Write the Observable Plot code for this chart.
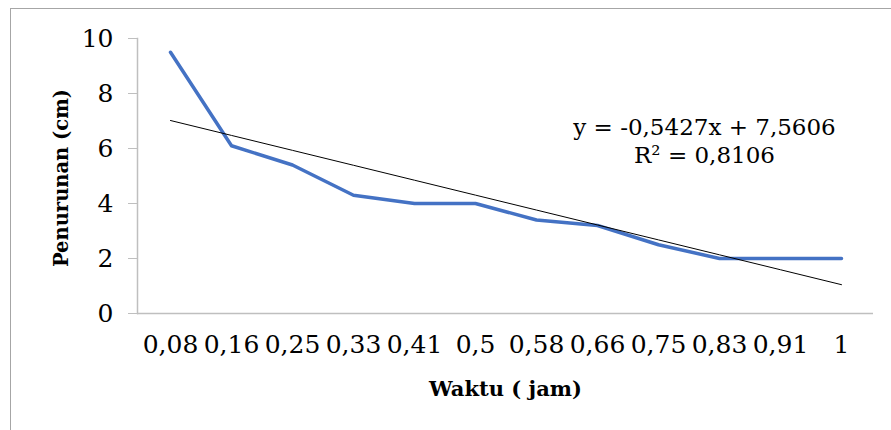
<!DOCTYPE html>
<html>
<head>
<meta charset="utf-8">
<script src="https://cdn.jsdelivr.net/npm/d3@7"></script>
<script src="https://cdn.jsdelivr.net/npm/@observablehq/plot@0.6"></script>
<style>
  html, body { margin: 0; padding: 0; background: #fff; }
  #wrap { position: relative; width: 891px; height: 430px; overflow: hidden; }
  #border { position: absolute; left: 10px; top: 8px; right: -5px; bottom: -5px;
            border-top: 1px solid #a6a6a6; border-left: 1px solid #a6a6a6; pointer-events: none; }
</style>
</head>
<body>
<div id="wrap"><div id="border"></div></div>
<script>
// Data
const categories = ["0,08","0,16","0,25","0,33","0,41","0,5","0,58","0,66","0,75","0,83","0,91","1"];
const values = [9.5, 6.1, 5.4, 4.3, 4.0, 4.0, 3.4, 3.2, 2.5, 2.0, 2.0, 2.0];
const yTicks = [0, 2, 4, 6, 8, 10];
const trendSlope = -0.5427;
const trendIntercept = 7.5606;
const equationText = "y = -0,5427x + 7,5606";
const r2Text = "R² = 0,8106";
const xLabel = "Waktu ( jam)";
const yLabel = "Penurunan (cm)";

const data = categories.map((c, i) => ({x: c, y: values[i]}));
const trend = categories.map((c, i) => ({x: c, y: trendIntercept + trendSlope * (i + 1)}));

const font = "'DejaVu Serif', serif";
const axisGray = "#bfbfbf";

const chart = Plot.plot({
  width: 891,
  height: 430,
  marginLeft: 137,
  marginRight: 18,
  marginTop: 38,
  marginBottom: 117,
  style: {fontFamily: font, fontSize: "25px", color: "black", background: "transparent"},
  x: {type: "point", domain: categories, padding: 0.5, label: null},
  y: {domain: [0, 10], label: null},
  marks: [
    Plot.axisY({ticks: yTicks, tickSize: 9, tickPadding: 15, stroke: axisGray, fill: "black", fontSize: 25, label: null}),
    Plot.axisX({tickSize: 0, tickPadding: 22, fill: "black", fontSize: 25, label: null}),
    Plot.frame({anchor: "left", stroke: axisGray, strokeWidth: 1.5}),
    Plot.ruleY([0], {stroke: axisGray, strokeWidth: 1.5}),
    Plot.line(data, {x: "x", y: "y", stroke: "#4472C4", strokeWidth: 3.5, strokeLinejoin: "round", strokeLinecap: "round"}),
    Plot.line(trend, {x: "x", y: "y", stroke: "black", strokeWidth: 1}),
    Plot.text([equationText], {frameAnchor: "top-right", dx: -169, dy: 89, textAnchor: "middle", lineAnchor: "middle", fontSize: 23, fill: "black"}),
    Plot.text([r2Text], {frameAnchor: "top-right", dx: -169, dy: 117, textAnchor: "middle", lineAnchor: "middle", fontSize: 23, fill: "black"}),
    Plot.text([xLabel], {frameAnchor: "bottom", dy: 76, textAnchor: "middle", lineAnchor: "middle", fontSize: 21, fontWeight: "bold", fill: "black"}),
    Plot.text([yLabel], {frameAnchor: "left", dx: -76, dy: 2, rotate: -90, textAnchor: "middle", lineAnchor: "middle", fontSize: 19.5, fontWeight: "bold", fill: "black"})
  ]
});
document.getElementById("wrap").insertBefore(chart, document.getElementById("border"));
</script>
</body>
</html>
